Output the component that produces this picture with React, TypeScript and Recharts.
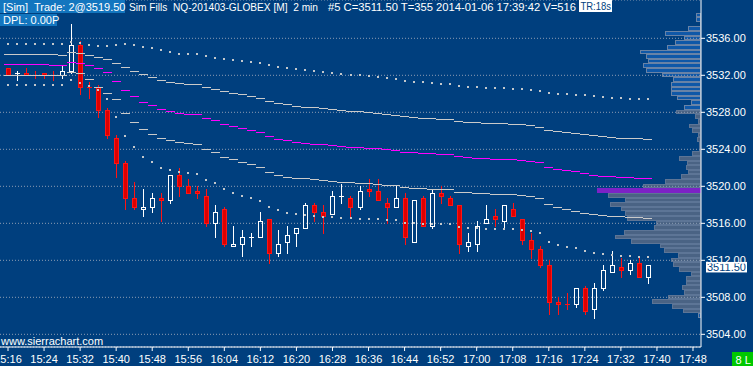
import React from 'react';
import { ComposedChart, BarChart, Bar, Line, XAxis, YAxis, CartesianGrid, ReferenceLine } from 'recharts';

const W = 753;
const H = 366;
const BG = '#003f7e';
const FONT = '"Liberation Sans", Arial, sans-serif';

const times = [
  '15:16','15:18','15:20','15:22','15:24','15:26','15:28','15:30','15:32','15:34','15:36','15:38','15:40','15:42','15:44','15:46','15:48','15:50','15:52','15:54','15:56','15:58',
  '16:00','16:02','16:04','16:06','16:08','16:10','16:12','16:14','16:16','16:18','16:20','16:22','16:24','16:26','16:28','16:30','16:32','16:34','16:36','16:38','16:40','16:42','16:44','16:46','16:48','16:50','16:52','16:54','16:56','16:58',
  '17:00','17:02','17:04','17:06','17:08','17:10','17:12','17:14','17:16','17:18','17:20','17:22','17:24','17:26','17:28','17:30','17:32','17:34','17:36','17:38','17:40','17:42','17:44','17:46','17:48'
];

const opens = [3532.75,3532.25,3532.25,3532.0,3532.25,3532.0,3532.0,3532.5,3535.25,3530.75,
  3530.75,3528.25,3525.25,3522.5,3518.75,3517.5,3517.75,3518.75,3518.5,3521.25,
  3520.0,3519.5,3519.0,3516.0,3517.5,3513.5,3513.75,3514.5,3514.5,3516.5,
  3512.75,3514.0,3515.0,3515.5,3518.0,3517.25,3517.0,3519.0,3518.75,3517.75,
  3519.75,3519.5,3518.25,3517.75,3518.75,3514.0,3518.75,3515.75,3519.25,3518.75,
  3518.0,3513.5,3513.75,3516.0,3516.75,3516.25,3517.5,3516.5,3514.25,3513.25,
  3511.5,3507.5,3507.25,3507.25,3509.0,3506.75,3509.0,3510.75,3511.25,3511.0,
  3511.75,3510.25];
const highs = [3532.75,3532.5,3532.75,3532.5,3532.25,3532.5,3533.0,3537.5,3535.75,3531.25,
  3531.0,3528.5,3525.5,3522.75,3520.5,3519.75,3519.25,3519.25,3521.25,3522.0,
  3520.75,3520.0,3519.75,3518.0,3517.75,3515.75,3515.25,3515.0,3517.25,3516.5,
  3515.25,3515.75,3515.5,3518.25,3518.25,3518.0,3519.5,3520.25,3519.0,3520.0,
  3520.75,3520.75,3518.75,3520.0,3519.25,3518.5,3519.0,3519.75,3520.0,3519.0,
  3518.0,3515.0,3516.25,3518.0,3517.5,3518.0,3518.25,3516.5,3515.0,3513.5,
  3512.0,3508.0,3508.5,3509.0,3509.25,3509.5,3511.5,3513.0,3512.25,3512.0,
  3512.25,3511.5];
const lows = [3532.0,3531.5,3532.0,3531.75,3531.75,3531.5,3531.75,3532.25,3530.0,3529.5,
  3527.5,3525.25,3521.0,3517.5,3517.5,3516.75,3517.25,3516.25,3518.25,3519.0,
  3519.25,3518.75,3515.75,3514.5,3513.5,3513.5,3512.5,3513.5,3514.5,3511.75,
  3512.5,3512.75,3513.5,3515.5,3516.25,3515.0,3517.0,3518.25,3516.75,3517.5,
  3519.0,3518.5,3516.0,3517.75,3513.75,3514.0,3515.75,3515.5,3518.25,3518.0,
  3512.75,3513.0,3513.0,3516.0,3515.75,3515.5,3516.75,3513.75,3512.25,3511.25,
  3506.25,3506.25,3506.75,3507.0,3506.25,3505.75,3508.75,3510.75,3510.25,3510.5,
  3510.25,3509.5];
const closes = [3532.0,3532.25,3532.0,3532.0,3532.0,3532.0,3532.5,3535.25,3530.75,3530.75,
  3528.25,3525.5,3522.5,3518.75,3517.75,3517.75,3518.75,3518.5,3521.25,3520.0,
  3519.25,3519.25,3516.0,3517.25,3513.75,3513.75,3514.5,3514.5,3516.25,3512.75,
  3513.75,3514.75,3515.5,3518.0,3517.25,3516.75,3519.0,3519.0,3517.75,3519.5,
  3519.5,3518.5,3517.75,3518.75,3514.5,3518.5,3515.75,3519.25,3519.0,3518.0,
  3513.75,3514.0,3515.75,3516.5,3516.5,3518.0,3516.75,3514.25,3513.25,3511.5,
  3507.5,3507.25,3507.25,3509.0,3506.5,3509.0,3511.0,3511.5,3511.0,3511.75,
  3510.25,3511.5];

const maUpper = [3534.27,3534.27,3534.27,3534.27,3534.27,3534.27,3534.16,3534.55,3534.38,3534.16,
  3533.95,3533.73,3533.30,3532.86,3532.43,3532.11,3531.78,3531.46,3531.24,3531.14,
  3531.03,3531.03,3530.70,3530.49,3530.27,3530.05,3529.95,3529.73,3529.51,3529.19,
  3528.97,3528.86,3528.65,3528.54,3528.54,3528.43,3528.32,3528.22,3528.11,3528.11,
  3528.00,3527.89,3527.78,3527.68,3527.57,3527.46,3527.35,3527.35,3527.24,3527.24,
  3527.03,3526.92,3526.92,3526.81,3526.81,3526.81,3526.70,3526.70,3526.59,3526.38,
  3526.09,3525.95,3525.84,3525.73,3525.62,3525.51,3525.41,3525.30,3525.19,3525.19,
  3525.19,3525.08];
const maMid = [3533.22,3533.22,3533.22,3533.22,3533.22,3533.11,3533.11,3533.47,3533.30,3533.08,
  3532.76,3532.32,3531.35,3530.38,3529.73,3529.08,3528.76,3528.32,3528.11,3527.89,
  3527.78,3527.78,3527.35,3527.14,3526.70,3526.49,3526.27,3526.05,3525.84,3525.41,
  3525.08,3524.97,3524.76,3524.65,3524.54,3524.54,3524.43,3524.32,3524.22,3524.22,
  3524.11,3524.11,3524.00,3523.89,3523.68,3523.68,3523.57,3523.57,3523.46,3523.46,
  3523.24,3523.14,3523.03,3523.03,3522.92,3522.92,3522.92,3522.81,3522.70,3522.59,
  3522.05,3521.84,3521.73,3521.62,3521.41,3521.22,3521.11,3521.11,3520.97,3520.97,
  3520.86,3520.86];
const maLower = [3532.03,3532.03,3532.03,3532.03,3532.03,3532.03,3532.03,3532.36,3532.22,3531.57,
  3530.77,3530.09,3529.41,3527.89,3526.92,3526.16,3525.62,3525.19,3524.97,3524.76,
  3524.65,3524.54,3524.00,3523.68,3523.14,3522.92,3522.59,3522.38,3522.05,3521.51,
  3521.19,3520.97,3520.86,3520.86,3520.76,3520.65,3520.54,3520.43,3520.43,3520.32,
  3520.32,3520.22,3520.11,3520.11,3519.89,3519.78,3519.78,3519.68,3519.68,3519.68,
  3519.35,3519.35,3519.24,3519.24,3519.14,3519.14,3519.14,3519.03,3518.92,3518.70,
  3518.05,3517.73,3517.51,3517.36,3517.15,3516.97,3516.86,3516.76,3516.76,3516.65,
  3516.65,3516.54];
const bandUpper = [3535.38,3535.38,3535.38,3535.38,3535.38,3535.38,3535.38,3535.63,3535.46,3535.28,
  3535.20,3535.20,3535.28,3535.38,3535.28,3535.09,3534.98,3534.74,3534.52,3534.30,
  3534.30,3534.30,3534.09,3533.87,3533.76,3533.65,3533.54,3533.44,3533.33,3533.11,
  3532.90,3532.79,3532.68,3532.57,3532.46,3532.36,3532.25,3532.14,3532.03,3532.03,
  3531.92,3531.82,3531.71,3531.60,3531.38,3531.28,3531.28,3531.17,3531.06,3531.06,
  3530.84,3530.74,3530.74,3530.63,3530.63,3530.63,3530.52,3530.52,3530.41,3530.30,
  3530.09,3529.98,3529.98,3529.87,3529.87,3529.76,3529.69,3529.58,3529.58,3529.47,
  3529.47,3529.47];
const bandLower = [3530.95,3530.95,3530.95,3530.95,3530.95,3530.95,3530.95,3531.49,3531.20,3530.84,
  3530.41,3529.44,3527.52,3525.47,3524.28,3523.17,3522.63,3522.01,3521.76,3521.58,
  3521.47,3521.36,3520.68,3520.39,3519.71,3519.31,3518.95,3518.77,3518.45,3517.80,
  3517.48,3517.12,3517.01,3516.90,3516.79,3516.71,3516.71,3516.61,3516.61,3516.50,
  3516.49,3516.49,3516.36,3516.36,3516.06,3516.06,3515.92,3515.92,3515.92,3515.92,
  3515.63,3515.52,3515.52,3515.38,3515.38,3515.38,3515.38,3515.28,3515.19,3514.98,
  3514.01,3513.68,3513.44,3513.34,3513.04,3512.79,3512.70,3512.59,3512.49,3512.46,
  3512.38,3512.36];

const priceTicks = [3504, 3508, 3512, 3516, 3520, 3524, 3528, 3532, 3536];
const yDomain = [3502.63, 3540.14];
const lastPrice = 3511.5;

const profilePrices = [3506.0,3506.5,3507.0,3507.5,3508.0,3508.5,3509.0,3509.5,3510.0,3510.5,
  3511.0,3511.5,3512.0,3512.5,3513.0,3513.5,3514.0,3514.5,3515.0,3515.5,
  3516.0,3516.5,3517.0,3517.5,3518.0,3518.5,3519.0,3519.5,3520.0,3520.5,
  3521.0,3521.5,3522.0,3522.5,3523.0,3523.5,3524.0,3524.5,3525.0,3525.5,
  3526.0,3526.5,3527.0,3527.5,3528.0,3528.5,3529.0,3529.5,3530.0,3530.5,
  3531.0,3531.5,3532.0,3532.5,3533.0,3533.5,3534.0,3534.5,3535.0,3535.5,
  3536.0,3536.5,3537.0,3537.5,3538.0,3538.5];
const profileVolumes = [27,177,290,487,327,173,187,147,147,97,
  217,277,300,227,367,407,697,860,767,467,
  453,740,757,797,907,757,930,1040,580,363,
  197,130,150,137,217,87,23,23,40,27,
  87,117,33,63,247,167,100,237,297,297,
  297,277,390,547,577,533,547,610,337,260,
  173,360,127,13,47,47];
const valueAreaLow = 3506.5;
const valueAreaHigh = 3528.0;

// candle direction: body colour, dojis take the direction vs. previous close (or keep previous colour)
const upFlags: boolean[] = [];
opens.forEach((o, i) => {
  const c = closes[i];
  if (c > o) upFlags.push(true);
  else if (c < o) upFlags.push(false);
  else if (i > 0 && c > closes[i - 1]) upFlags.push(true);
  else if (i > 0 && c < closes[i - 1]) upFlags.push(false);
  else upFlags.push(i > 0 ? upFlags[i - 1] : true);
});

const data = times.map((t, i) =>
  i < opens.length
    ? {
        t,
        hl: [lows[i], highs[i]],
        o: opens[i], h: highs[i], l: lows[i], c: closes[i],
        up: upFlags[i],
        ma1: maUpper[i], ma2: maMid[i], ma3: maLower[i],
        ub: bandUpper[i], lb: bandLower[i],
      }
    : { t }
);

const pocVolume = Math.max(...profileVolumes);
const profileData = profilePrices.map((p, i) => ({ p, v: profileVolumes[i] }));

const RED_FILL = '#dc0000';
const RED_LINE = '#ff1414';
const WHITE = '#ffffff';

const Candle = (props: any) => {
  const { x, y, width, height, payload } = props;
  if (!payload || payload.o == null || x == null) return <g />;
  const { o, h, l, c, up } = payload;
  const top = Math.min(y, y + height);
  const bot = Math.max(y, y + height);
  const py = (p: number) => (h === l ? top : top + ((h - p) / (h - l)) * (bot - top));
  const cx = Math.round(x + width / 2);
  const col = up ? WHITE : RED_LINE;
  const bTop = Math.round(py(Math.max(o, c)));
  const bBot = Math.round(py(Math.min(o, c)));
  const hy = Math.round(py(h));
  const ly = Math.round(py(l));
  const wx = cx + 0.5;
  if (o === c) {
    return (
      <g shapeRendering="crispEdges">
        <line x1={wx} x2={wx} y1={hy} y2={ly + 1} stroke={col} strokeWidth={1} />
        <line x1={cx - 2} x2={cx + 3} y1={bTop + 0.5} y2={bTop + 0.5} stroke={col} strokeWidth={1} />
      </g>
    );
  }
  return (
    <g shapeRendering="crispEdges">
      {hy < bTop && <line x1={wx} x2={wx} y1={hy} y2={bTop} stroke={col} strokeWidth={1} />}
      {ly > bBot && <line x1={wx} x2={wx} y1={bBot} y2={ly + 1} stroke={col} strokeWidth={1} />}
      <rect
        x={cx - 1.5}
        y={bTop + 0.5}
        width={4}
        height={Math.max(bBot - bTop, 1)}
        fill={up ? 'none' : RED_FILL}
        stroke={col}
        strokeWidth={1}
      />
    </g>
  );
};

const segDot = (color: string, w: number) => (props: any) => {
  const { cx, cy, index } = props;
  if (cy == null || cx == null || !isFinite(cy)) return <g key={'s' + index} />;
  const yy = Math.round(cy) + (w % 2 ? 0.5 : 0);
  return (
    <line key={'s' + index} x1={cx - 4.5} x2={cx + 4.5} y1={yy} y2={yy}
      stroke={color} strokeWidth={w} shapeRendering="crispEdges" />
  );
};

const sqDot = (color: string) => (props: any) => {
  const { cx, cy, index } = props;
  if (cy == null || cx == null || !isFinite(cy)) return <g key={'q' + index} />;
  return <rect key={'q' + index} x={Math.round(cx) - 1} y={Math.round(cy) - 1} width={2} height={2} fill={color} shapeRendering="crispEdges" />;
};

const ProfileRow = (props: any) => {
  const { x, y, width, height, payload } = props;
  if (x == null || !payload) return <g />;
  const left = Math.min(x, x + width);
  const w = Math.abs(width);
  const cy = y + height / 2;
  const p = payload.p;
  if (payload.v === pocVolume) {
    return <rect x={left} y={cy - 2.4} width={w} height={4.8} fill="#7c22c6" shapeRendering="crispEdges" />;
  }
  const inVA = p >= valueAreaLow && p <= valueAreaHigh;
  return (
    <rect
      x={left + 0.5}
      y={cy - 2.3 + 0.5}
      width={Math.max(w - 1, 0.5)}
      height={3.6}
      fill={inVA ? '#4a6384' : '#0f58a8'}
      stroke={inVA ? '#5d7596' : '#6983a6'}
      strokeWidth={1}
      shapeRendering="crispEdges"
    />
  );
};

const PriceLabel = (props: any) => {
  const vb = props.viewBox || {};
  const x0 = (vb.x || 0) + (vb.width || 0) + 5;
  const yc = vb.y || 0;
  return (
    <g>
      <rect x={x0} y={yc - 3} width={41} height={10.5} fill="#ffffff" />
      <text x={x0 + 1} y={yc + 6} fontSize={11} fill={BG} fontFamily={FONT}>
        {lastPrice.toFixed(2)}
      </text>
    </g>
  );
};

export default function App() {
  return (
    <div style={{ position: 'fixed', left: 0, top: 0, width: W, height: H, background: BG, overflow: 'hidden', fontFamily: FONT }}>
      <div style={{ position: 'absolute', left: 0, top: 0 }}>
        <BarChart width={W} height={H} layout="vertical" data={profileData}
          margin={{ top: 0, right: 52, bottom: 19, left: 0 }}>
          <XAxis type="number" hide domain={[0, 7010]} reversed allowDataOverflow />
          <YAxis type="number" dataKey="p" hide domain={yDomain} reversed allowDataOverflow />
          <Bar dataKey="v" isAnimationActive={false} shape={ProfileRow} barSize={4} />
        </BarChart>
      </div>
      <div style={{ position: 'absolute', left: 0, top: 0 }}>
        <ComposedChart width={W} height={H} data={data} margin={{ top: 0, right: 0, bottom: 0, left: 0 }}>
          <CartesianGrid horizontal vertical={false} stroke="#8c9db4" strokeDasharray="1 2" />
          <XAxis dataKey="t" interval={3} padding={{ left: 3.5, right: 3.5 }} height={19}
            tickSize={4} tickMargin={4}
            tick={{ fill: '#ffffff', fontSize: 11 }}
            axisLine={{ stroke: '#ffffff' }} tickLine={{ stroke: '#ffffff' }} />
          <YAxis orientation="right" type="number" width={52} domain={yDomain} allowDataOverflow
            ticks={priceTicks} tickFormatter={(v: number) => v.toFixed(2)}
            tickSize={4} tickMargin={1}
            tick={{ fill: '#ffffff', fontSize: 11 }}
            axisLine={{ stroke: '#ffffff' }} tickLine={{ stroke: '#ffffff' }} />
          <Bar dataKey="hl" barSize={5} shape={Candle} isAnimationActive={false} />
          <Line dataKey="ma1" stroke="none" dot={segDot('#cacaca', 1)} activeDot={false} isAnimationActive={false} />
          <Line dataKey="ma3" stroke="none" dot={segDot('#cacaca', 1)} activeDot={false} isAnimationActive={false} />
          <Line dataKey="ma2" stroke="none" dot={segDot('#ff00ff', 1)} activeDot={false} isAnimationActive={false} />
          <Line dataKey="ub" stroke="none" dot={sqDot('#c4c8cc')} activeDot={false} isAnimationActive={false} />
          <Line dataKey="lb" stroke="none" dot={sqDot('#c4c8cc')} activeDot={false} isAnimationActive={false} />
          <ReferenceLine y={lastPrice} stroke="#000" strokeOpacity={0} label={<PriceLabel />} />
        </ComposedChart>
      </div>
      <svg width={W} height={H} style={{ position: 'absolute', left: 0, top: 0, pointerEvents: 'none' }}
        fontFamily={FONT} fontSize={11}>
        <rect x={0} y={0} width={125} height={13} fill="#1376bf" />
        <text x={3} y={10.5} fill="#ffffff" style={{ whiteSpace: 'pre' }}>{'[Sim]  Trade: 2@3519.50'}</text>
        <text x={129} y={10.5} fill="#ffffff" style={{ whiteSpace: 'pre' }} textLength={189} lengthAdjust="spacingAndGlyphs">{'Sim Fills  NQ-201403-GLOBEX [M]  2 min'}</text>
        <text x={328} y={10.5} fill="#ffffff" style={{ whiteSpace: 'pre' }} textLength={248} lengthAdjust="spacingAndGlyphs">{'#5 C=3511.50 T=355 2014-01-06 17:39:42 V=516'}</text>
        <rect x={579} y={0} width={33} height={12} fill="#ffffff" />
        <text x={580.5} y={10} fill={BG} textLength={30.5} lengthAdjust="spacingAndGlyphs">TR:18s</text>
        <rect x={0} y={14} width={57} height={12} fill="#1376bf" />
        <text x={3} y={23.5} fill="#ffffff">DPL: 0.00P</text>
        <text x={1} y={345} fill="#ffffff">www.sierrachart.com</text>
        <rect x={732} y={352} width={21} height={14} fill="#00c800" />
        <text x={735.5} y={363.5} fill="#ffffff" style={{ whiteSpace: 'pre' }}>{'8 L'}</text>
      </svg>
    </div>
  );
}
